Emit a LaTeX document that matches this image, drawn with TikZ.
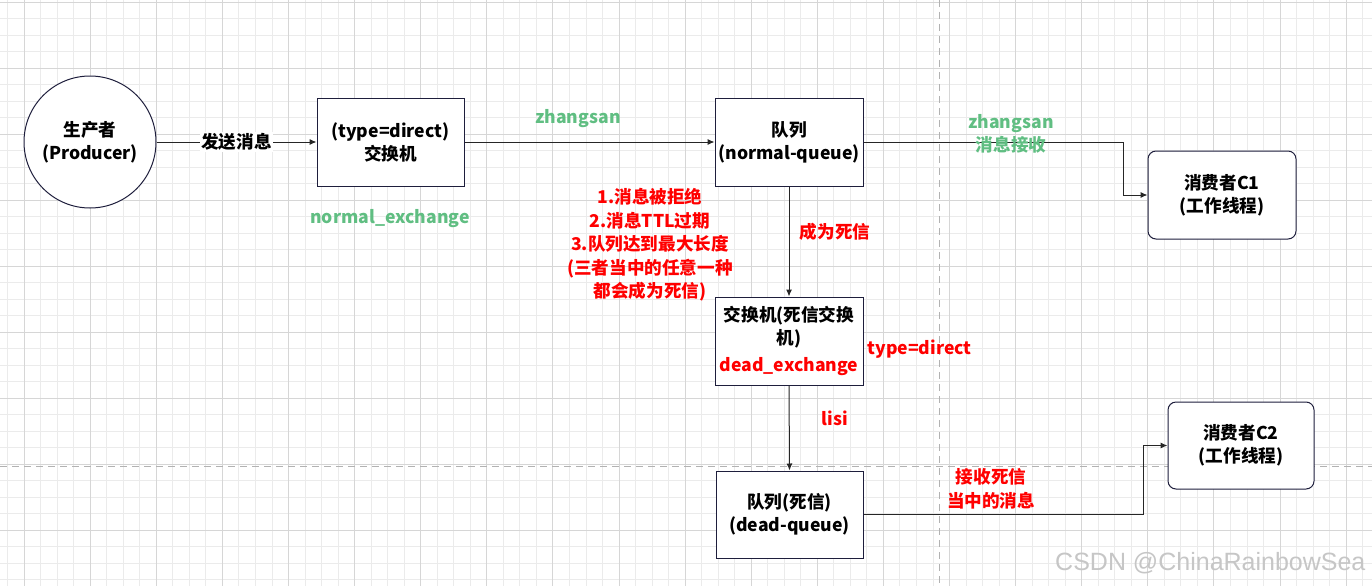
\documentclass[tikz,border=0pt]{standalone}
\usepackage{fontspec}
\setmainfont{Noto Sans CJK SC}
\newfontfamily\wmfont{Liberation Sans}
\usetikzlibrary{arrows.meta}
\definecolor{navy}{RGB}{30,30,60}
\definecolor{lblgreen}{RGB}{96,190,130}
\definecolor{lblred}{RGB}{255,0,0}
\definecolor{gridminor}{RGB}{235,235,235}
\definecolor{gridmajor}{RGB}{214,214,214}
\tikzset{
  box/.style={draw=navy, line width=1pt, fill=white, minimum width=147pt, minimum height=88pt, inner sep=1pt, align=center, font=\fontsize{17.6}{23}\selectfont\bfseries},
  rbox/.style={box, rounded corners=8pt},
  arr/.style={draw=black!85, line width=1pt, -{Latex[length=7pt,width=6pt]}},
  gtext/.style={text=lblgreen, align=center, font=\fontsize{17.6}{23}\selectfont\bfseries},
  rtext/.style={text=lblred, align=center, font=\fontsize{17.6}{23.5}\selectfont\bfseries},
  btext/.style={text=black, align=center, font=\fontsize{17.6}{23}\selectfont\bfseries},
  guide/.style={draw=gray!60, line width=0.8pt, dash pattern=on 7pt off 5pt},
}
\begin{document}
\begin{tikzpicture}[x=1pt,y=-1pt]
\useasboundingbox (0,0) rectangle (1372,586);
\fill[white] (0,0) rectangle (1372,586);
% grid
\foreach \i in {-1,...,82} {\draw[gridminor, line width=0.7pt] ({24+16.525*\i},0) -- ({24+16.525*\i},586);}
\foreach \j in {0,...,35} {\draw[gridminor, line width=0.7pt] (0,{2+16.5*\j}) -- (1372,{2+16.5*\j});}
\foreach \i in {0,...,20} {\draw[gridmajor, line width=0.8pt] ({24+66.1*\i},0) -- ({24+66.1*\i},586);}
\foreach \j in {0,...,8} {\draw[gridmajor, line width=0.8pt] (0,{2+66*\j}) -- (1372,{2+66*\j});}
% guide lines
\draw[guide] (939,0) -- (939,586);
\draw[guide] (0,466) -- (1372,466);

% nodes
\node[circle, draw=navy, line width=1pt, fill=white, minimum size=132pt, inner sep=0pt, align=center, font=\fontsize{17.6}{23}\selectfont\bfseries] (prod) at (90,142) {生产者\\(Producer)};
\node[box] (ex) at (390.5,142) {(type=direct)\\交换机};
\node[box, minimum width=148pt] (nq) at (789,142) {队列\\(normal-queue)};
\node[box, minimum width=148pt] (dx) at (789,341) {交换机(死信交换\\机)\\[4pt]\textcolor{lblred}{dead\_exchange}};
\node[box, minimum height=87pt] (dq) at (789.5,514.5) {队列(死信)\\(dead-queue)};
\node[rbox, minimum width=148pt] (c1) at (1222,195) {消费者C1\\(工作线程)};
\node[rbox, minimum width=146pt, minimum height=87pt] (c2) at (1241,445.5) {消费者C2\\(工作线程)};

% bend coordinates
\coordinate (b1) at (1123,0);
\coordinate (b2) at (1143,0);

% connectors
\draw[arr] (prod) -- node[btext, fill=white, inner sep=1pt] (l0) {发送消息} (ex);
\draw[arr] (ex) -- (nq);
\draw[arr] (nq.east) -- (nq.east -| b1) -- (b1 |- c1.west) -- (c1.west);
\draw[arr] (nq.south) -- (dx.north);
\draw[arr] (dx.south) -- (dq.north);
\draw[arr] (dq.east) -- (dq.east -| b2) -- (b2 |- c2.west) -- (c2.west);

% labels
\node[gtext] (l1) at (390,219) {normal\_exchange};
\node[gtext] (l2) at (578,119) {zhangsan};
\node[gtext] (l3) at (1011,134) {zhangsan\\消息接收};
\node[rtext] (l4) at (650,245) {1.消息被拒绝\\2.消息TTL过期\\3.队列达到最大长度\\(三者当中的任意一种\\都会成为死信)};
\node[rtext] (l5) at (835,232) {成为死信};
\node[rtext, anchor=west] (l6) at (864,349) {type=direct};
\node[rtext] (l7) at (835,418) {lisi};
\node[rtext] (l8) at (991,489) {接收死信\\当中的消息};
\node[text=gray!45, font=\wmfont\fontsize{25}{25}\selectfont, anchor=east] (wm) at (1369,563) {CSDN @ChinaRainbowSea};
\end{tikzpicture}
\end{document}
